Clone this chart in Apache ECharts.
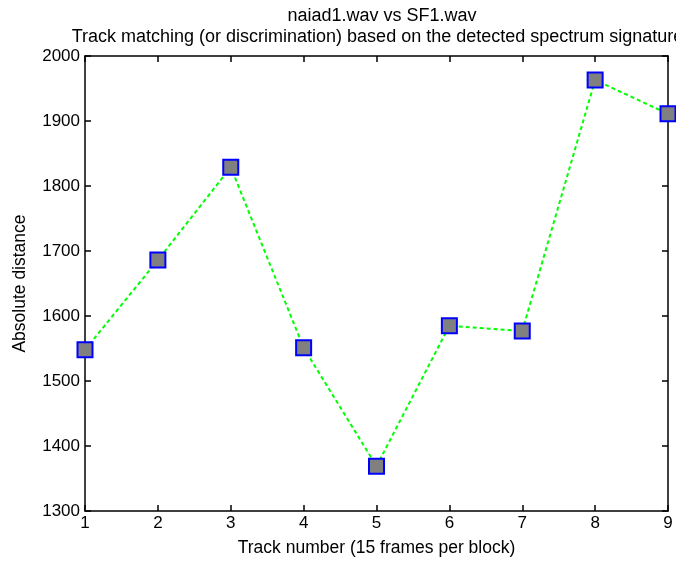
<!DOCTYPE html>
<html><head><meta charset="utf-8">
<script src="https://cdn.jsdelivr.net/npm/echarts@6/dist/echarts.min.js"></script>
<style>html,body{margin:0;padding:0;background:#fff}#c{width:676px;height:561px}</style>
</head><body><div id="c"></div>
<script>
const tracks = [1, 2, 3, 4, 5, 6, 7, 8, 9];
const distances = [1548, 1686, 1829, 1551, 1369, 1585, 1577, 1963, 1911];
const titleLines = ['naiad1.wav vs SF1.wav', 'Track matching (or discrimination) based on the detected spectrum signatures'];
const xName = 'Track number (15 frames per block)';
const yName = 'Absolute distance';

const chart = echarts.init(document.getElementById('c'), null, {renderer: 'canvas'});
const font = 'Liberation Sans, Arial, sans-serif';
const fs = 17;
const axisCommon = {
  axisLine: {lineStyle: {color: '#000', width: 1.5}},
  axisTick: {inside: true, length: 6, lineStyle: {color: '#000', width: 1.5}},
  splitLine: {show: false}
};
chart.setOption({
  animation: false,
  title: {
    text: titleLines.join('\n'), left: 377, top: 1, textAlign: 'center',
    textStyle: {fontFamily: font, fontSize: 18, fontWeight: 'normal', color: '#000', lineHeight: 21}
  },
  grid: {left: 85, right: 8, top: 56, bottom: 50, containLabel: false, outerBoundsMode: 'none'},
  xAxis: [
    Object.assign({type: 'value', min: 1, max: 9, interval: 1, name: xName, nameLocation: 'middle', nameGap: 28,
      nameTextStyle: {fontFamily: font, fontSize: 17.5, color: '#000'},
      axisLabel: {fontFamily: font, fontSize: fs, color: '#000', margin: 4}}, axisCommon),
    Object.assign({type: 'value', min: 1, max: 9, interval: 1, position: 'top', axisLabel: {show: false}}, axisCommon)
  ],
  yAxis: [
    Object.assign({type: 'value', min: 1300, max: 2000, interval: 100, name: yName, nameLocation: 'middle', nameGap: 56,
      nameTextStyle: {fontFamily: font, fontSize: 17.5, color: '#000'},
      axisLabel: {fontFamily: font, fontSize: fs, color: '#000', margin: 5, formatter: v => String(v)}}, axisCommon),
    Object.assign({type: 'value', min: 1300, max: 2000, interval: 100, position: 'right', axisLabel: {show: false}}, axisCommon)
  ],
  series: [{
    type: 'line',
    data: tracks.map((t, i) => [t, distances[i]]),
    symbol: 'rect', symbolSize: 15,
    lineStyle: {color: '#00ff00', width: 2, type: [4, 3]},
    itemStyle: {color: '#808080', borderColor: '#0000ff', borderWidth: 2},
    clip: false
  }]
});
</script></body></html>
